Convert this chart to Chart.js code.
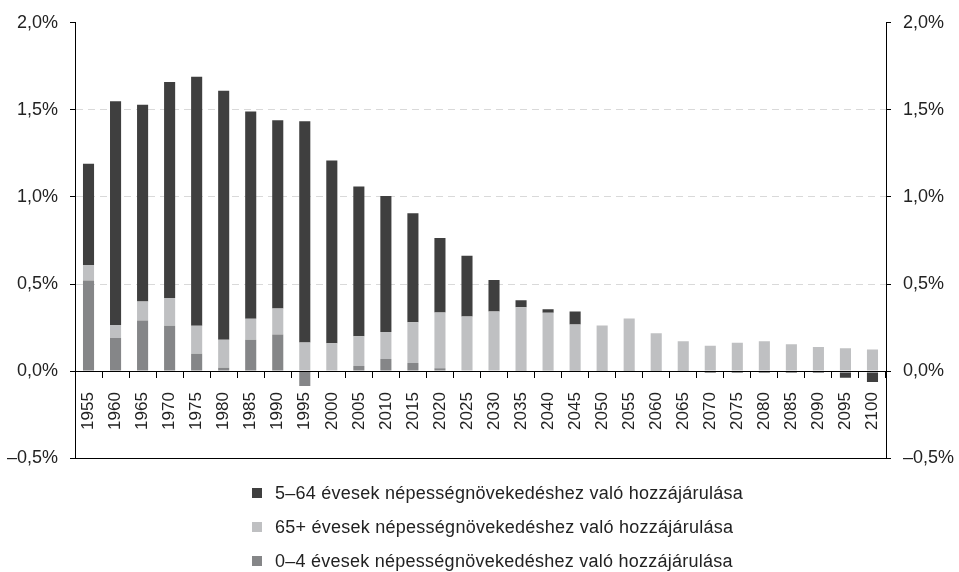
<!DOCTYPE html>
<html>
<head>
<meta charset="utf-8">
<script src="https://cdn.jsdelivr.net/npm/chart.js@4"></script>
<style>
  html, body { margin: 0; padding: 0; background: #fff; }
  #wrap { position: relative; width: 959px; height: 572px; overflow: hidden; }
  #chartBox { position: absolute; left: 0; top: 0; width: 959px; height: 481px; }
  #legend { position: absolute; left: 252px; top: 476px; font-family: 'Liberation Sans', Arial, sans-serif; font-size: 18px; letter-spacing: 0.25px; color: #222; }
  .row { height: 34px; line-height: 34px; white-space: nowrap; display: flex; align-items: center; }
  .box { width: 10px; height: 10px; margin-right: 13px; flex: none; }
</style>
</head>
<body>
<div id="wrap">
  <div id="chartBox"><canvas id="c" width="959" height="481"></canvas></div>
  <div id="legend"></div>
</div>
<script>
const years = ['1955','1960','1965','1970','1975','1980','1985','1990','1995','2000','2005','2010','2015','2020','2025','2030','2035','2040','2045','2050','2055','2060','2065','2070','2075','2080','2085','2090','2095','2100'];
const age0_4 = [0.52, 0.19, 0.29, 0.26, 0.10, 0.02, 0.18, 0.21, -0.085, -0.005, 0.03, 0.07, 0.047, 0.017, 0.003, 0.003, 0.007, 0.005, 0.007, 0.002, 0.002, 0.002, 0.002, -0.006, -0.006, -0.006, -0.006, -0.006, -0.01, -0.01];
const age65 = [0.09, 0.075, 0.11, 0.16, 0.16, 0.16, 0.12, 0.15, 0.165, 0.16, 0.17, 0.155, 0.234, 0.32, 0.31, 0.34, 0.36, 0.33, 0.26, 0.26, 0.30, 0.215, 0.17, 0.146, 0.163, 0.171, 0.154, 0.139, 0.131, 0.124];
const age5_64 = [0.58, 1.284, 1.13, 1.24, 1.43, 1.43, 1.19, 1.08, 1.27, 1.05, 0.86, 0.78, 0.625, 0.427, 0.35, 0.18, 0.04, 0.02, 0.075, 0.0, 0.0, 0.0, 0.0, -0.003, -0.003, -0.003, -0.003, -0.003, -0.028, -0.052];
const seriesNames = ['0–4 évesek népességnövekedéshez való hozzájárulása', '65+ évesek népességnövekedéshez való hozzájárulása', '5–64 évesek népességnövekedéshez való hozzájárulása'];
const yTicks = [-0.5, 0, 0.5, 1.0, 1.5, 2.0];

const FONT = "'Liberation Sans', Arial, sans-serif";
const fmt = v => (v < 0 ? '–' : '') + Math.abs(v).toFixed(1).replace('.', ',') + '%';

const gridColor = ctx => {
  const v = ctx.tick ? ctx.tick.value : null;
  if (v === -0.5) return '#000';
  if (v !== null && v > 0 && v < 2) return '#d9d9d9';
  return 'rgba(0,0,0,0)';
};
const gridDash = ctx => {
  const v = ctx.tick ? ctx.tick.value : null;
  return (v !== null && v > 0 && v < 2) ? [7, 5] : [];
};

const chart = new Chart(document.getElementById('c'), {
  type: 'bar',
  data: {
    labels: years,
    datasets: [
      { label: seriesNames[0], data: age0_4, backgroundColor: '#858688' },
      { label: seriesNames[1], data: age65, backgroundColor: '#bfc0c2' },
      { label: seriesNames[2], data: age5_64, backgroundColor: '#3f3f3f' }
    ]
  },
  options: {
    responsive: false,
    animation: false,
    barPercentage: 0.41,
    categoryPercentage: 1.0,
    layout: { padding: { top: 20, bottom: 10, left: 0, right: 0 } },
    plugins: { legend: { display: false }, tooltip: { enabled: false } },
    scales: {
      x: {
        stacked: true,
        position: { y: 0 },
        afterFit: s => { s.height = 0; },
        grid: { display: true, drawOnChartArea: false, drawTicks: true, tickLength: 6, offset: true, color: '#000', tickColor: '#000' },
        border: { display: true, color: '#000', width: 1, z: 1 },
        ticks: { autoSkip: false, minRotation: 90, maxRotation: 90, padding: 15, color: '#222', font: { family: FONT, size: 17 } }
      },
      y: {
        stacked: true,
        position: 'left',
        min: -0.5, max: 2.0,
        afterFit: s => { s.width = 75; },
        afterBuildTicks: s => { s.ticks = yTicks.map(v => ({ value: v })); },
        grid: { color: gridColor, tickColor: '#000', tickLength: 5, lineWidth: 1 },
        border: { display: true, color: '#000', width: 1, dash: gridDash },
        ticks: { padding: 12, color: '#222', font: { family: FONT, size: 18 }, callback: v => fmt(v) }
      },
      y2: {
        position: 'right',
        min: -0.5, max: 2.0,
        afterFit: s => { s.width = 73; },
        afterBuildTicks: s => { s.ticks = yTicks.map(v => ({ value: v })); },
        grid: { drawOnChartArea: false, tickColor: '#000', tickLength: 5 },
        border: { display: true, color: '#000', width: 1 },
        ticks: { padding: 12, color: '#222', font: { family: FONT, size: 18 }, callback: v => fmt(v) }
      }
    }
  }
});

// HTML legend built from the chart's datasets (reverse order, as in the reference)
const legend = document.getElementById('legend');
chart.data.datasets.slice().reverse().forEach(ds => {
  const row = document.createElement('div');
  row.className = 'row';
  const box = document.createElement('span');
  box.className = 'box';
  box.style.background = ds.backgroundColor;
  const txt = document.createElement('span');
  txt.textContent = ds.label;
  row.appendChild(box);
  row.appendChild(txt);
  legend.appendChild(row);
});
</script>
</body>
</html>
